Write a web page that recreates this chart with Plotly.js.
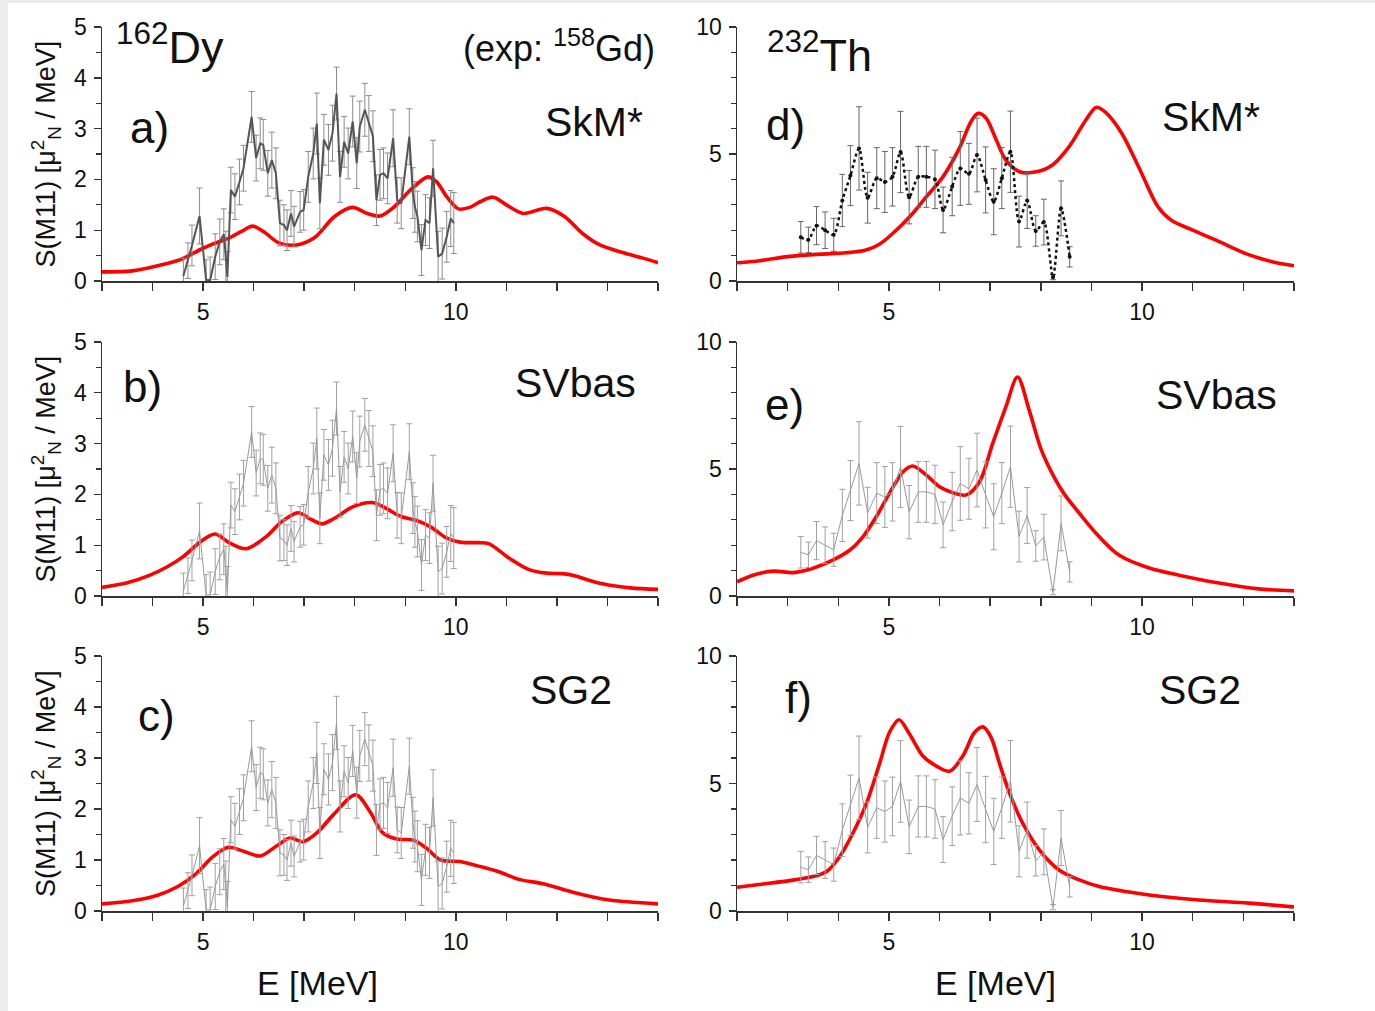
<!DOCTYPE html>
<html>
<head>
<meta charset="utf-8">
<script src="https://cdn.plot.ly/plotly-3.0.1.min.js"></script>
<style>html,body{margin:0;padding:0;background:#fff;}#chart{width:1375px;height:1011px;}</style>
</head>
<body>
<div id="chart"></div>
<script>
// ---------- Experimental data: 162Dy panels (exp: 158Gd) ----------
const dyE = [4.61,4.70,4.78,4.93,5.06,5.14,5.24,5.33,5.41,5.45,5.48,5.55,5.63,5.72,5.80,5.96,6.05,6.13,6.19,6.28,6.36,6.44,6.52,6.60,6.66,6.74,6.80,6.92,6.99,7.08,7.18,7.25,7.31,7.39,7.48,7.56,7.64,7.71,7.79,7.87,7.96,8.04,8.10,8.20,8.28,8.36,8.43,8.50,8.57,8.65,8.76,8.84,8.92,9.08,9.15,9.19,9.24,9.32,9.40,9.48,9.55,9.65,9.73,9.82,9.90,9.96];
const dyS = [0.10,0.40,0.70,1.28,0.02,0.02,0.48,0.77,0.92,0.48,0.08,1.79,1.66,1.95,2.22,3.23,2.42,2.71,2.68,2.12,2.38,2.12,1.14,1.10,1.00,1.33,1.07,1.36,1.40,2.05,2.51,3.10,1.53,2.78,2.58,2.91,3.69,2.05,2.74,2.51,3.14,2.32,3.04,3.37,3.10,2.85,1.59,2.09,2.12,2.02,2.81,1.59,1.53,2.84,1.73,1.46,1.27,0.61,1.20,1.14,2.22,0.48,0.54,0.87,1.23,1.14];
const dyErr = [0.35,0.35,0.40,0.55,0.40,0.45,0.45,0.45,0.50,0.50,0.50,0.45,0.45,0.45,0.45,0.50,0.45,0.50,0.50,0.45,0.55,0.50,0.45,0.40,0.40,0.45,0.40,0.40,0.40,0.50,0.50,0.60,0.50,0.50,0.50,0.55,0.52,0.50,0.50,0.50,0.50,0.50,0.50,0.52,0.55,0.50,0.50,0.50,0.50,0.50,0.56,0.45,0.50,0.55,0.50,0.50,0.50,0.50,0.50,0.50,0.55,0.50,0.50,0.50,0.55,0.60];

// ---------- Experimental data: 232Th panels ----------
const thE = [3.26,3.41,3.57,3.74,3.91,4.08,4.24,4.41,4.58,4.76,4.92,5.07,5.23,5.40,5.58,5.74,5.91,6.07,6.25,6.41,6.58,6.74,6.91,7.07,7.23,7.40,7.57,7.73,7.90,8.06,8.24,8.40,8.57];
const thS = [1.72,1.62,2.18,2.00,1.82,3.17,4.15,5.22,3.28,4.05,3.90,4.10,5.08,3.30,4.10,4.10,4.00,2.80,3.72,4.43,4.22,4.96,3.98,3.12,4.05,5.09,2.34,3.17,1.97,2.32,0.15,2.86,0.95];
const thErr = [0.62,0.50,0.75,0.72,0.65,1.03,1.18,1.64,1.00,1.20,1.20,1.15,1.60,1.05,1.20,1.20,1.15,0.90,1.15,1.45,1.20,1.45,1.30,1.30,1.20,1.60,1.00,1.10,0.60,0.90,0.10,1.08,0.40];

// ---------- Theory curves: 162Dy ----------
const dySkmE = [3.0,3.6,4.1,4.55,4.95,5.2,5.5,5.75,5.98,6.2,6.5,6.85,7.2,7.6,7.95,8.25,8.5,8.78,9.1,9.45,9.62,9.82,10.05,10.3,10.48,10.74,11.0,11.33,11.8,12.15,12.5,12.85,13.3,13.7,14.0];
const dySkmS = [0.18,0.20,0.30,0.42,0.62,0.73,0.84,0.97,1.08,0.97,0.75,0.71,0.85,1.27,1.45,1.33,1.28,1.46,1.79,2.05,1.95,1.66,1.42,1.46,1.56,1.65,1.50,1.33,1.43,1.27,0.94,0.71,0.56,0.45,0.36];
const dySvbasE = [3.0,3.5,3.95,4.3,4.6,4.95,5.24,5.53,5.85,6.25,6.55,6.88,7.1,7.35,7.6,7.97,8.35,8.65,8.9,9.25,9.5,9.82,10.08,10.45,10.65,11.05,11.45,11.8,12.1,12.35,12.6,12.9,13.45,14.0];
const dySvbasS = [0.17,0.26,0.41,0.58,0.77,1.07,1.22,1.04,0.93,1.17,1.46,1.64,1.53,1.42,1.53,1.76,1.84,1.71,1.57,1.48,1.36,1.14,1.06,1.05,1.03,0.75,0.52,0.45,0.44,0.40,0.32,0.24,0.16,0.13];
const dySg2E = [3.0,3.6,4.1,4.5,4.87,5.2,5.5,5.8,6.13,6.46,6.72,6.98,7.25,7.58,8.02,8.3,8.56,8.83,9.16,9.42,9.7,10.08,10.45,10.85,11.25,11.75,12.35,13.0,14.0];
const dySg2S = [0.14,0.20,0.31,0.48,0.74,1.07,1.25,1.17,1.08,1.28,1.43,1.36,1.53,1.89,2.28,1.95,1.53,1.41,1.39,1.23,1.00,0.97,0.88,0.77,0.62,0.53,0.36,0.22,0.14];

// ---------- Theory curves: 232Th ----------
const thSkmE = [2.0,2.45,3.0,3.65,4.15,4.55,4.82,5.08,5.41,5.74,6.07,6.39,6.62,6.76,6.92,7.12,7.31,7.58,7.91,8.23,8.56,8.89,9.1,9.3,9.6,9.96,10.31,10.57,11.0,11.5,12.1,12.55,13.0];
const thSkmS = [0.72,0.80,0.96,1.06,1.11,1.22,1.46,1.88,2.53,3.32,4.11,5.22,6.27,6.60,6.41,5.55,4.76,4.30,4.30,4.57,5.29,6.34,6.84,6.60,5.81,4.37,2.93,2.40,2.00,1.57,1.04,0.77,0.60];
const thSvbasE = [2.0,2.33,2.72,3.11,3.5,3.9,4.23,4.49,4.75,5.01,5.28,5.47,5.74,6.0,6.26,6.53,6.79,7.05,7.31,7.54,7.77,8.01,8.27,8.46,8.76,9.15,9.55,10.14,10.73,11.52,12.3,13.0];
const thSvbasS = [0.56,0.83,0.98,0.92,1.09,1.42,1.81,2.34,3.12,4.04,4.89,5.12,4.76,4.30,4.07,3.98,4.50,6.01,7.45,8.62,7.32,5.75,4.65,4.02,3.26,2.34,1.60,1.10,0.82,0.51,0.28,0.20];
const thSg2E = [2.0,2.52,3.04,3.5,3.77,4.03,4.29,4.56,4.82,5.01,5.2,5.41,5.67,5.94,6.2,6.46,6.69,6.86,7.02,7.18,7.38,7.64,7.97,8.36,8.76,9.15,10.14,11.12,12.1,13.0];
const thSg2S = [0.93,1.06,1.19,1.35,1.55,2.14,3.06,4.24,5.81,7.00,7.50,6.93,6.08,5.68,5.48,6.08,7.00,7.22,6.80,5.81,4.63,3.45,2.40,1.61,1.22,0.96,0.63,0.43,0.31,0.16];

// ---------- Labels ----------
const panelLetters = ['a)','b)','c)','d)','e)','f)'];
const forceNames = ['SkM*','SVbas','SG2','SkM*','SVbas','SG2'];
const yTitle = 'S(M11) [μ<sup>2</sup><sub>N</sub> / MeV]';
const xTitle = 'E [MeV]';

// ---------- helpers ----------
const W = 1375, H = 1011;
const px = x => x / W;
const py = y => 1 - y / H;
const FONT = 'Liberation Sans, Arial, Helvetica, sans-serif';
const RED = '#ff0000';

function redTrace(x, y, xa, ya) {
  return {x: x, y: y, xaxis: xa, yaxis: ya, type: 'scatter', mode: 'lines',
    line: {color: RED, width: 3.6, shape: 'spline', smoothing: 0.9}, hoverinfo: 'skip'};
}
function expTrace(x, y, e, xa, ya, lineStyle, errColor, marker) {
  const t = {x: x, y: y, xaxis: xa, yaxis: ya, type: 'scatter', mode: marker ? 'lines+markers' : 'lines',
    line: lineStyle, hoverinfo: 'skip',
    error_y: {type: 'data', array: e, visible: true, color: errColor, thickness: 1, width: 3}};
  if (marker) t.marker = marker;
  return t;
}

const darkLine = {color: '#555555', width: 2};
const lightLine = {color: '#9a9a9a', width: 1};
const dotLine = {color: '#111111', width: 2.5, dash: 'dot', shape: 'spline', smoothing: 0.8};

const data = [
  redTrace(dySkmE, dySkmS, 'x', 'y'),
  expTrace(dyE, dyS, dyErr, 'x', 'y', darkLine, '#8c8c8c'),
  redTrace(dySvbasE, dySvbasS, 'x2', 'y2'),
  expTrace(dyE, dyS, dyErr, 'x2', 'y2', lightLine, '#a0a0a0'),
  redTrace(dySg2E, dySg2S, 'x3', 'y3'),
  expTrace(dyE, dyS, dyErr, 'x3', 'y3', lightLine, '#a0a0a0'),
  redTrace(thSkmE, thSkmS, 'x4', 'y4'),
  expTrace(thE, thS, thErr, 'x4', 'y4', dotLine, '#666666', {color: '#111', size: 4}),
  redTrace(thSvbasE, thSvbasS, 'x5', 'y5'),
  expTrace(thE, thS, thErr, 'x5', 'y5', lightLine, '#a0a0a0'),
  redTrace(thSg2E, thSg2S, 'x6', 'y6'),
  expTrace(thE, thS, thErr, 'x6', 'y6', lightLine, '#a0a0a0')
];

const axisBase = {
  showline: true, linecolor: '#333', linewidth: 1.5, mirror: false,
  ticks: 'outside', ticklen: 8, tickwidth: 1.4, tickcolor: '#333',
  showgrid: false, zeroline: false, fixedrange: true,
  tickfont: {family: FONT, size: 23, color: '#111'}
};
function xAx(col, row, anchor) {
  const dom = col === 0 ? [px(102), px(658)] : [px(737), px(1294)];
  const rng = col === 0 ? [3, 14] : [2, 13];
  return Object.assign({}, axisBase, {domain: dom, range: rng, anchor: anchor,
    tick0: 0, dtick: 5, ticklabelstandoff: 2,
    minor: {ticks: 'outside', ticklen: 8, tickwidth: 1.4, tickcolor: '#333', dtick: 1, showgrid: false}});
}
function yAx(col, row, anchor) {
  const doms = [[py(281), py(27)], [py(596), py(342)], [py(911), py(656)]];
  const a = Object.assign({}, axisBase, {domain: doms[row], anchor: anchor,
    range: col === 0 ? [0, 5] : [0, 10], dtick: col === 0 ? 1 : 5, tick0: 0, ticklen: 7,
    ticklabelstandoff: 2,
    minor: {ticks: 'outside', ticklen: 5, tickwidth: 1.2, tickcolor: '#333', dtick: col === 0 ? 0.5 : 1, showgrid: false}});
  if (col === 0) a.title = {text: yTitle, font: {family: FONT, size: 27, color: '#111'}, standoff: 10};
  return a;
}

const ann = [];
function txt(t, x, y, xanchor, size) {
  ann.push({text: t, x: px(x), y: py(y), xref: 'paper', yref: 'paper', xanchor: xanchor, yanchor: 'middle',
    showarrow: false, font: {family: FONT, size: size, color: '#111'}});
}
txt('<sup>162</sup>Dy', 114, 44, 'left', 45);
txt('(exp: <sup>158</sup>Gd)', 657, 46, 'right', 36);
txt('<sup>232</sup>Th', 765, 52, 'left', 45);
const letterPos = [[128,128],[121,386],[136,715],[764,125],[763,405],[783,697]];
const namePos = [[645,122],[638,383],[614,690],[1262,117],[1279,395],[1243,690]];
for (let i = 0; i < 6; i++) {
  txt(panelLetters[i], letterPos[i][0], letterPos[i][1], 'left', 44);
  txt(forceNames[i], namePos[i][0], namePos[i][1], 'right', 41);
}
txt(xTitle, 317, 983, 'center', 34);
txt(xTitle, 995, 983, 'center', 34);

const layout = {
  width: W, height: H, margin: {l: 0, r: 0, t: 0, b: 0},
  paper_bgcolor: '#ffffff', plot_bgcolor: 'rgba(0,0,0,0)', showlegend: false,
  font: {family: FONT, color: '#111'},
  xaxis: xAx(0, 0, 'y'), yaxis: yAx(0, 0, 'x'),
  xaxis2: xAx(0, 1, 'y2'), yaxis2: yAx(0, 1, 'x2'),
  xaxis3: xAx(0, 2, 'y3'), yaxis3: yAx(0, 2, 'x3'),
  xaxis4: xAx(1, 0, 'y4'), yaxis4: yAx(1, 0, 'x4'),
  xaxis5: xAx(1, 1, 'y5'), yaxis5: yAx(1, 1, 'x5'),
  xaxis6: xAx(1, 2, 'y6'), yaxis6: yAx(1, 2, 'x6'),
  annotations: ann,
  shapes: [
    {type: 'rect', xref: 'paper', yref: 'paper', x0: 0, x1: px(8), y0: 0, y1: 1, fillcolor: '#ececec', line: {width: 0}, layer: 'below'},
    {type: 'rect', xref: 'paper', yref: 'paper', x0: 0, x1: 1, y0: py(3), y1: 1, fillcolor: '#ececec', line: {width: 0}, layer: 'below'}
  ]
};

Plotly.newPlot('chart', data, layout, {staticPlot: true, displayModeBar: false});
</script>
</body>
</html>
